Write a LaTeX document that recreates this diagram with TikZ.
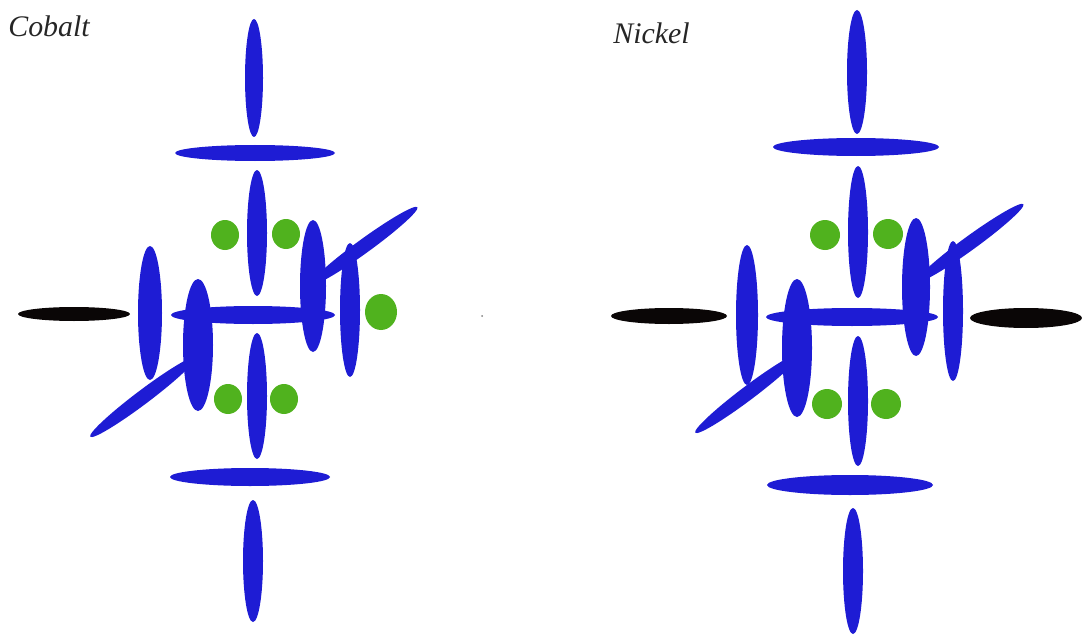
\documentclass[tikz,border=0pt]{standalone}
\usepackage{fontspec}
\setmainfont{Liberation Serif}
\usepackage{tikz}
\definecolor{dblue}{RGB}{30,28,212}
\definecolor{pgreen}{RGB}{80,178,30}
\definecolor{lig}{RGB}{10,6,6}
\tikzset{
	lobe/.style={fill=dblue},
	elec/.style={fill=pgreen},
	ligand/.style={fill=lig},
	metal/.style={font=\fontsize{17}{20}\selectfont\itshape, text=black!85, anchor=base west, inner sep=0pt},
}

\begin{document}
\begin{tikzpicture}[x=0.02cm,y=-0.02cm]
\useasboundingbox (0,0) rectangle (1082,635);
% Cobalt
\node[metal] (co) at (8,37) {Cobalt};
\fill[lobe] (254,78) ellipse (9 and 59);
\fill[lobe] (255,153) ellipse (80 and 8);
\fill[lobe] (257,233) ellipse (10 and 63);
\fill[lobe] (313,286) ellipse (13 and 66);
\fill[lobe, rotate around={36:(364,246)}] (364,246) ellipse (66 and 7);
\fill[lobe] (350,310) ellipse (10 and 67);
\fill[lobe] (253,315) ellipse (82 and 9);
\fill[lobe] (150,313) ellipse (12 and 67);
\fill[lobe] (198,345) ellipse (15 and 66);
\fill[lobe, rotate around={37:(143,397)}] (143,397) ellipse (66 and 7);
\fill[lobe] (257,396) ellipse (10 and 63);
\fill[lobe] (250,477) ellipse (80 and 9);
\fill[lobe] (253,561) ellipse (10 and 61);
\fill[ligand] (74,314) ellipse (56 and 7);
\fill[elec] (225,235) ellipse (14 and 15);
\fill[elec] (286,234) ellipse (14 and 15);
\fill[elec] (228,399) ellipse (14 and 15);
\fill[elec] (284,399) ellipse (14 and 15);
\fill[elec] (381,312) ellipse (16 and 18);
\fill[gray] (482,316) circle (1);
% Nickel
\node[metal] (ni) at (613,44) {Nickel};
\fill[lobe] (857,72) ellipse (10 and 62);
\fill[lobe] (856,147) ellipse (83 and 9);
\fill[lobe] (858,232) ellipse (10 and 66);
\fill[lobe] (916,287) ellipse (14 and 69);
\fill[lobe, rotate around={36:(970,243)}] (970,243) ellipse (66 and 7);
\fill[lobe] (953,311) ellipse (10 and 70);
\fill[lobe] (852,317) ellipse (86 and 9);
\fill[lobe] (747,315) ellipse (11 and 70);
\fill[lobe] (797,348) ellipse (15 and 69);
\fill[lobe, rotate around={37:(748,393)}] (748,393) ellipse (66 and 7);
\fill[lobe] (858,401) ellipse (10 and 65);
\fill[lobe] (850,485) ellipse (83 and 10);
\fill[lobe] (853,571) ellipse (10 and 63);
\fill[ligand] (669,316) ellipse (58 and 8);
\fill[ligand] (1026,318) ellipse (56 and 10);
\fill[elec] (825,235) ellipse (15 and 15);
\fill[elec] (888,234) ellipse (15 and 15);
\fill[elec] (827,404) ellipse (15 and 15);
\fill[elec] (886,404) ellipse (15 and 15);
\end{tikzpicture}
\end{document}
